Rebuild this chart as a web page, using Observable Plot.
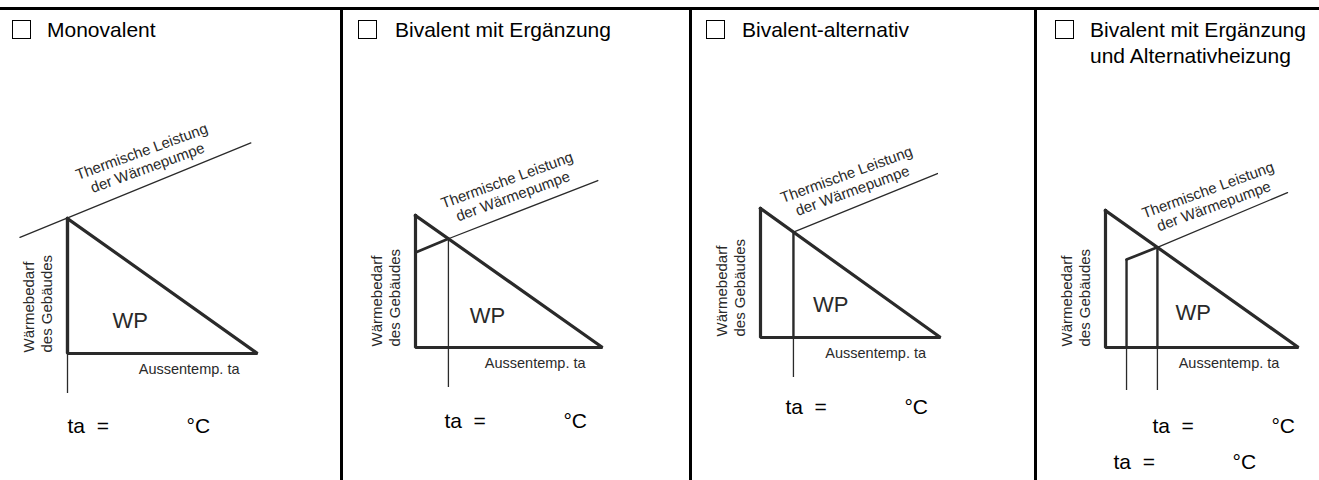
<!DOCTYPE html>
<html><head><meta charset="utf-8">
<script src="https://cdn.jsdelivr.net/npm/d3@7"></script>
<script src="https://cdn.jsdelivr.net/npm/@observablehq/plot@0.6"></script>
<style>
html,body{margin:0;padding:0;background:#fff;}
#chart{position:relative;width:1319px;height:480px;overflow:hidden;font-family:"Liberation Sans",Arial,sans-serif;}
.rule{position:absolute;background:#000;}
.title{position:absolute;font-size:21px;line-height:26.6px;color:#000;white-space:pre;}
.box{position:absolute;width:19px;height:19px;border:1.7px solid #000;box-sizing:border-box;}
.panel{position:absolute;top:0;}
.panel svg{overflow:visible;display:block;}
.panel svg text{white-space:pre;}
</style></head><body><div id="chart"></div>
<script>
// Betriebsarten (titles)
const modes = ["Monovalent", "Bivalent mit Ergänzung", "Bivalent-alternativ", "Bivalent mit Ergänzung\nund Alternativheizung"];
// Normalised diagram axes: t = Aussentemperatur (0 = Auslegungstemperatur, 1 = Heizgrenze), q = Wärmebedarf
const demandT = [0, 1, 0, 0];
const demandQ = [1, 0, 0, 1];
// Thermische Leistung der Wärmepumpe (thin line): start / end per mode
const pumpT = [[-0.25, 0.965], [0.176, 0.975], [0.183, 0.983], [0.269, 0.943]];
const pumpQ = [[0.86, 1.56], [0.824, 1.265], [0.817, 1.271], [0.731, 1.131]];
// Ergänzung: heat-pump share below the bivalence point (thick segment)
const boostT = [[], [0, 0.176], [], [0.109, 0.269]];
const boostQ = [[], [0.72, 0.824], [], [0.642, 0.731]];
// Bivalenzpunkte per mode
const bivT = [[0], [0.176], [0.183], [0.109, 0.269]];
const bivQ = [[1], [0.824], [0.817], [0.642, 0.731]];
// Labels
const pumpLabel = "Thermische Leistung\nder Wärmepumpe";
const demandLabel = "Wärmebedarf\ndes Gebäudes";
const tempLabel = "Aussentemp. ta";
const areaLabel = "WP";
const taLabel = "ta \u00a0=";
const unitLabel = "°C";

// ---- layout (pixels, styling) ----
const layout = [
  {left: 0, width: 342, x0: 67, x1: 257, yTop: 218, yBot: 353, box: 12, text: 47, labT: 0.43, wp: [0.33, 0.24], taDx: [0], taY: [79], ext: 40, vertW: 3.2},
  {left: 342, width: 348, x0: 415, x1: 602, yTop: 215, yBot: 347, box: 358, text: 395, labT: 0.53, wp: [0.385, 0.24], taDx: [-4], taY: [80], ext: 40, vertW: 1.3},
  {left: 690, width: 345, x0: 760, x1: 940, yTop: 208, yBot: 337, box: 706, text: 742, labT: 0.52, wp: [0.39, 0.25], taDx: [-8], taY: [76], ext: 40, vertW: 2.4},
  {left: 1035, width: 284, x0: 1105, x1: 1298, yTop: 210, yBot: 347, box: 1055, text: 1090, labT: 0.57, wp: [0.455, 0.25], taDx: [-13, -5], taY: [121, 85], ext: 43, vertW: 2.4}
];
const ink = "#2a2a2a";
const font = "Liberation Sans, Arial, sans-serif";
const chart = document.getElementById("chart");

function addDiv(cls, css, txt) {
  const d = document.createElement("div");
  d.className = cls;
  Object.assign(d.style, css);
  if (txt != null) d.textContent = txt;
  chart.appendChild(d);
  return d;
}

modes.forEach((mode, i) => {
  const L = layout[i];
  const h = L.yBot - L.yTop;
  const below = -L.ext / h;
  const tri = demandT.map((t, k) => ({t, q: demandQ[k]}));
  const pump = pumpT[i].map((t, k) => ({t, q: pumpQ[i][k]}));
  const boost = boostT[i].map((t, k) => ({t, q: boostQ[i][k]}));
  const biv = bivT[i].map((t, k) => ({t, q: bivQ[i][k], k}));
  const qAt = t => pumpQ[i][0] + (t - pumpT[i][0]) * (pumpQ[i][1] - pumpQ[i][0]) / (pumpT[i][1] - pumpT[i][0]);

  const svg = Plot.plot({
    width: L.width,
    height: 480,
    marginLeft: L.x0 - L.left,
    marginRight: L.left + L.width - L.x1,
    marginTop: L.yTop,
    marginBottom: 480 - L.yBot,
    x: {domain: [0, 1], axis: null},
    y: {domain: [0, 1], axis: null},
    style: {background: "transparent", overflow: "visible", fontFamily: font},
    marks: [
      Plot.line(pump, {x: "t", y: "q", stroke: ink, strokeWidth: 1.3}),
      Plot.line(boost, {x: "t", y: "q", stroke: ink, strokeWidth: 2.7}),
      Plot.ruleX(biv, {x: "t", y1: "q", y2: () => 0, stroke: ink, strokeWidth: L.vertW}),
      Plot.ruleX(biv, {x: "t", y1: () => 0, y2: () => below, stroke: ink, strokeWidth: 1.3}),
      Plot.line(tri, {x: "t", y: "q", stroke: ink, strokeWidth: 3.2, strokeLinejoin: "miter", strokeLinecap: "square"}),
      Plot.text([{t: L.labT, q: qAt(L.labT)}], {x: "t", y: "q", text: () => pumpLabel, rotate: -20, textAnchor: "middle", lineAnchor: "bottom", lineHeight: 1.15, dy: -12, fontSize: 15, fill: ink, fontFamily: font}),
      Plot.text([{t: 0, q: 0}], {x: "t", y: "q", text: () => demandLabel, rotate: -90, textAnchor: "start", lineAnchor: "middle", lineHeight: 1.15, dx: -30, dy: -1, fontSize: 15, fill: ink, fontFamily: font}),
      Plot.text([{t: 0.64, q: 0}], {x: "t", y: "q", text: () => tempLabel, textAnchor: "middle", lineAnchor: "bottom", dy: 20, fontSize: 14.5, fill: ink, fontFamily: font}),
      Plot.text([{t: L.wp[0], q: L.wp[1]}], {x: "t", y: "q", text: () => areaLabel, textAnchor: "middle", lineAnchor: "middle", fontSize: 22, fill: ink, fontFamily: font}),
      ...biv.map((b, k) => Plot.text([b], {x: "t", y: () => 0, text: () => taLabel, textAnchor: "start", lineAnchor: "bottom", dx: L.taDx[k], dy: L.taY[k], fontSize: 21, fill: "#000", fontFamily: font})),
      ...biv.map((b, k) => Plot.text([b], {x: "t", y: () => 0, text: () => unitLabel, textAnchor: "start", lineAnchor: "bottom", dx: L.taDx[k] + 119, dy: L.taY[k], fontSize: 21, fill: "#000", fontFamily: font}))
    ]
  });
  const wrap = addDiv("panel", {left: L.left + "px", width: L.width + "px", height: "480px"});
  wrap.appendChild(svg);
  addDiv("box", {left: L.box + "px", top: "20px"});
  addDiv("title", {left: L.text + "px", top: "16.5px"}, mode);
});

// frame rules
addDiv("rule", {left: "0px", top: "7px", width: "1319px", height: "3px"});
[340, 689, 1034].forEach(x => addDiv("rule", {left: x + "px", top: "7px", width: "3px", height: "473px"}));
</script></body></html>
